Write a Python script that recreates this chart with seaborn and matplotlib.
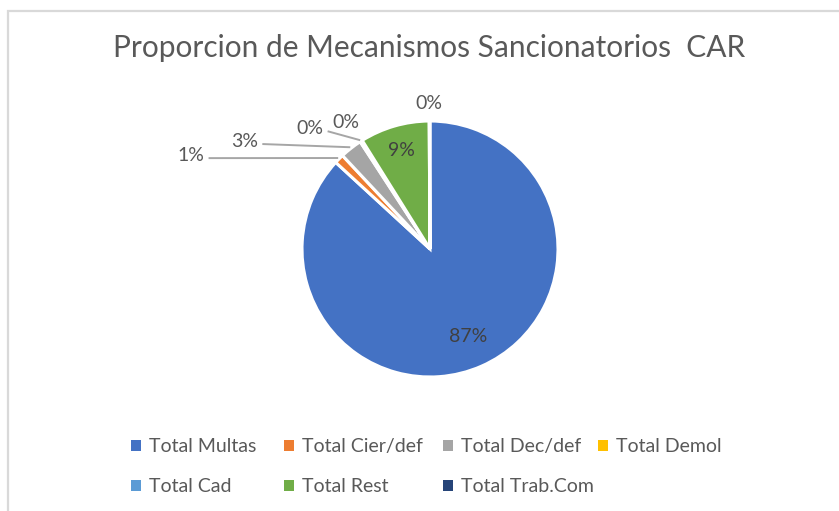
import matplotlib
matplotlib.use("Agg")
import matplotlib.pyplot as plt
from matplotlib.patches import Patch, Rectangle
import numpy as np
import seaborn as sns

# Sanctioning mechanisms applied by the CAR
categories = ["Total Multas", "Total Cier/def", "Total Dec/def", "Total Demol",
              "Total Cad", "Total Rest", "Total Trab.Com"]
counts = [870, 12, 28, 2, 1, 88, 1]
colors = ["#4472C4", "#ED7D31", "#A5A5A5", "#FFC000", "#5B9BD5", "#70AD47", "#264478"]
title = "Proporcion de Mecanismos Sancionatorios  CAR"

sns.set_style("white")
plt.rcParams["font.family"] = ["Lato", "DejaVu Sans"]

W, H = 839, 511
fig = plt.figure(figsize=(W / 100, H / 100), dpi=100)

# chart-area frame
fig.add_artist(Rectangle((8 / W, -0.05), 1.2, (H - 11) / H + 0.05,
                         transform=fig.transFigure, fill=False,
                         edgecolor="#D9D9D9", linewidth=1.6))

cx, cy, R = 430, 249, 128
ax = fig.add_axes([(cx - R) / W, (H - cy - R) / H, 2 * R / W, 2 * R / H])
ax.axis("off")

total = sum(counts)
pcts = [100 * c / total for c in counts]

wedges, _ = ax.pie(counts, colors=colors, startangle=90, counterclock=False,
                   radius=1.0, wedgeprops=dict(edgecolor="white", linewidth=2.2),
                   frame=False)
ax.set_xlim(-1, 1)
ax.set_ylim(-1, 1)

# mid angle of each wedge (radians, standard orientation)
mids = [np.deg2rad((w.theta1 + w.theta2) / 2) for w in wedges]

lab_kw = dict(fontsize=14, ha="center", va="center")
# inside labels
for i, r in [(0, 0.75), (5, 0.80)]:
    ax.text(r * np.cos(mids[i]), r * np.sin(mids[i]), f"{pcts[i]:.0f}%",
            color="#404040", **lab_kw)

# outside labels with leader lines
outside = {
    1: ((-1.87, 0.73), (-1.73, 0.71)),
    2: ((-1.45, 0.84), (-1.31, 0.82)),
    3: ((-0.94, 0.94), (-0.80, 0.92)),
    4: ((-0.66, 0.99), None),
    6: ((-0.01, 1.14), None),
}
for i, (txt_pos, line_start) in outside.items():
    ax.text(txt_pos[0], txt_pos[1], f"{pcts[i]:.0f}%", color="#595959",
            clip_on=False, **lab_kw)
    if line_start is not None:
        ex, ey = 1.01 * np.cos(mids[i]), 1.01 * np.sin(mids[i])
        ax.plot([line_start[0], ex], [line_start[1], ey], color="#A6A6A6",
                linewidth=1.4, clip_on=False, solid_capstyle="butt")

fig.text(429 / W, 1 - 48 / H, title, ha="center", va="center",
         fontsize=21.5, color="#595959")

# legend: four evenly spaced columns, two rows
ncol = 4
col_x = [131, 284, 443, 598]
for c in range(ncol):
    idx = list(range(c, len(categories), ncol))
    handles = [Patch(facecolor=colors[i], edgecolor="none") for i in idx]
    labels = [categories[i] for i in idx]
    fig.legend(handles, labels, loc="upper left",
               bbox_to_anchor=(col_x[c] / W, 1 - 438 / H),
               frameon=False, fontsize=14, labelcolor="#595959",
               handlelength=0.5, handleheight=0.5, handletextpad=0.45,
               labelspacing=1.2, borderpad=0, borderaxespad=0)

fig.savefig("out.png", dpi=100)
